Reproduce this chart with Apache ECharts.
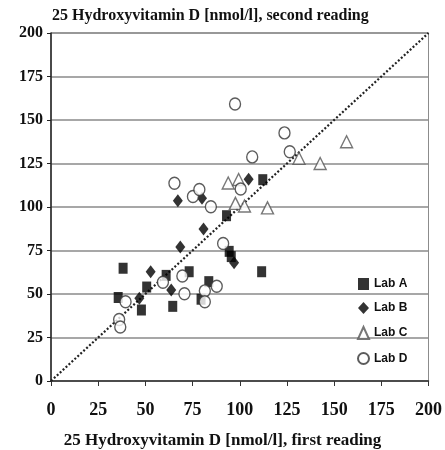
<!doctype html>
<html>
<head>
<meta charset="utf-8">
<title>25 Hydroxyvitamin D</title>
<script src="https://cdn.jsdelivr.net/npm/echarts@6/dist/echarts.min.js"></script>
<style>
  html, body { margin: 0; padding: 0; background: #fff; }
  #main { width: 445px; height: 450px; }
</style>
</head>
<body>
<div id="main"></div>
<script>
// first reading (x), second reading (y), nmol/l
var labA = [[35.6, 48], [38.2, 64.8], [47.9, 40.8], [50.7, 54], [61, 60.7], [64.5, 42.9],
  [73.2, 62.8], [79.5, 47], [83.6, 57.1], [93, 95], [94.4, 74.5], [95.5, 71.5],
  [111.6, 62.8], [112.2, 115.7]];
var labB = [[46.8, 47.5], [52.8, 62.8], [63.7, 52.3], [67.2, 103.6], [68.5, 77],
  [80, 105], [80.8, 87.4], [97, 68], [104.7, 116]];
var labC = [[93.9, 113.8], [99.4, 115.8], [97.7, 102.1], [102.5, 100.6], [114.7, 99.5],
  [131.4, 128], [142.6, 125], [156.6, 137.5]];
var labD = [[36.1, 35.3], [36.7, 31], [39.5, 45.6], [59.3, 56.8], [65.4, 113.6],
  [69.6, 60.4], [70.7, 50.2], [75.2, 106], [78.6, 110], [81.5, 51.8], [81.5, 45.6],
  [84.7, 100.2], [87.8, 54.5], [91.2, 79], [97.5, 159.2], [100.5, 110.4],
  [106.6, 128.8], [123.7, 142.6], [126.5, 131.8]];
var identityLine = [[0, 0], [200, 200]];
var ticks = [0, 25, 50, 75, 100, 125, 150, 175, 200];

var serif = 'Liberation Serif';

var chart = echarts.init(document.getElementById('main'));
chart.setOption({
  animation: false,
  title: [{
    text: '25 Hydroxyvitamin D [nmol/l], second reading',
    left: 47, top: 3,
    textStyle: { fontFamily: serif, fontWeight: 'bold', fontSize: 16, color: '#111' }
  }, {
    text: '25 Hydroxyvitamin D [nmol/l], first reading',
    left: 'center', top: 427,
    textStyle: { fontFamily: serif, fontWeight: 'bold', fontSize: 17, color: '#111' }
  }],
  grid: {
    left: 51, right: 15, top: 33, bottom: 69,
    show: true, borderColor: '#8c8c8c', borderWidth: 1
  },
  legend: {
    orient: 'vertical',
    left: 352, top: 273,
    itemGap: 12,
    itemWidth: 11, itemHeight: 12,
    textStyle: { fontFamily: 'Liberation Sans', fontWeight: 'bold', fontSize: 12, color: '#111' },
    data: ['Lab A', 'Lab B', 'Lab C', 'Lab D']
  },
  xAxis: {
    type: 'value', min: ticks[0], max: ticks[ticks.length - 1], interval: 25,
    axisLine: { lineStyle: { color: '#333', width: 1.5 } },
    axisTick: { show: true, length: 5, lineStyle: { color: '#333' } },
    axisLabel: { margin: 20, fontFamily: serif, fontWeight: 'bold', fontSize: 18, color: '#111' },
    splitLine: { show: false }
  },
  yAxis: {
    type: 'value', min: ticks[0], max: ticks[ticks.length - 1], interval: 25,
    axisLine: { show: true, lineStyle: { color: '#222', width: 1.5 } },
    axisTick: { show: true, length: 4, lineStyle: { color: '#222' } },
    axisLabel: { margin: 8, fontFamily: serif, fontWeight: 'bold', fontSize: 16, color: '#111' },
    splitLine: { lineStyle: { color: '#8a8a8a', width: 1.5 } }
  },
  series: [{
    type: 'line',
    data: identityLine,
    symbol: 'none',
    silent: true,
    lineStyle: { color: '#222', width: 2.2, type: [2, 2] },
    z: 1
  }, {
    name: 'Lab A', type: 'scatter', data: labA,
    symbol: 'rect', symbolSize: [9, 11],
    itemStyle: { color: '#000' }
  }, {
    name: 'Lab B', type: 'scatter', data: labB,
    symbol: 'diamond', symbolSize: [10, 13],
    itemStyle: { color: '#000' }
  }, {
    name: 'Lab C', type: 'scatter', data: labC,
    symbol: 'triangle', symbolSize: [12, 12],
    itemStyle: { color: '#fff', borderColor: '#555', borderWidth: 1.4 }
  }, {
    name: 'Lab D', type: 'scatter', data: labD,
    symbol: 'circle', symbolSize: [11, 12],
    itemStyle: { color: '#fff', borderColor: '#333', borderWidth: 1.4 }
  }]
});
</script>
</body>
</html>
